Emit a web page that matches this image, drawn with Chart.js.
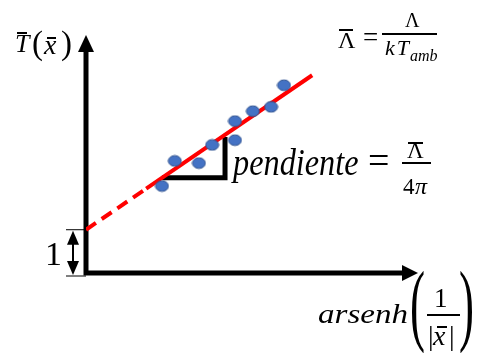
<!DOCTYPE html>
<html>
<head>
<meta charset="utf-8">
<script src="https://cdn.jsdelivr.net/npm/chart.js@4.4.1/dist/chart.umd.min.js"></script>
<style>
    html, body { margin: 0; padding: 0; background: #fff; }
    #wrap { position: relative; width: 477px; height: 353px; overflow: hidden; }
    #chart { position: absolute; left: 0; top: 0; }
    .lbl { position: absolute; font-family: 'Liberation Serif', 'Times New Roman', serif; color: #000; line-height: 1; white-space: nowrap; }
    .rule { position: absolute; background: #000; }
</style>
</head>
<body>
<div id="wrap">
    <canvas id="chart" width="477" height="353"></canvas>
</div>
<script>
// measured points (x = arsenh(1/|x|), y = T(x))
const pointsX = [1.83, 2.14, 2.72, 3.04, 3.59, 3.59, 4.02, 4.46, 4.77];
const pointsY = [2.01, 2.59, 2.54, 2.96, 3.07, 3.51, 3.74, 3.84, 4.34];

// fitted line: dashed extrapolation down to the axis, then solid
const dashX = [0, 1.45];
const dashY = [1.0, 1.95];
const solidX = [1.45, 5.45];
const solidY = [1.95, 4.57];

// slope triangle
const triX = [1.83, 3.35, 3.35];
const triY = [2.20, 2.20, 3.14];

const xRange = [0, 8];
const yRange = [0, 5.5];
const intercept = 1;

const toXY = (xs, ys) => xs.map((x, i) => ({ x: x, y: ys[i] }));

// blue ellipse marker
const dot = document.createElement('canvas');
dot.width = 15; dot.height = 13;
const dctx = dot.getContext('2d');
dctx.beginPath();
dctx.ellipse(7.5, 6.5, 6.5, 5.3, 0, 0, Math.PI * 2);
dctx.fillStyle = '#4472C4';
dctx.fill();
dctx.strokeStyle = '#2F528F';
dctx.lineWidth = 1;
dctx.stroke();

// axes with arrow heads + the "1" double arrow
const axesArrows = {
    id: 'axesArrows',
    beforeDatasetsDraw(chart) {
        const { ctx, scales: { x, y } } = chart;
        const x0 = x.getPixelForValue(0), y0 = y.getPixelForValue(0);
        const xEnd = x.getPixelForValue(xRange[1]), yEnd = y.getPixelForValue(yRange[1]);
        ctx.save();
        ctx.strokeStyle = '#000';
        ctx.fillStyle = '#000';
        ctx.lineWidth = 5;
        ctx.beginPath();
        ctx.moveTo(x0, yEnd + 14);
        ctx.lineTo(x0, y0);
        ctx.lineTo(xEnd - 14, y0);
        ctx.stroke();
        // arrow heads
        ctx.beginPath();
        ctx.moveTo(x0, yEnd);
        ctx.lineTo(x0 - 8, yEnd + 17);
        ctx.lineTo(x0 + 8, yEnd + 17);
        ctx.closePath();
        ctx.fill();
        ctx.beginPath();
        ctx.moveTo(xEnd, y0);
        ctx.lineTo(xEnd - 16, y0 - 8);
        ctx.lineTo(xEnd - 16, y0 + 8);
        ctx.closePath();
        ctx.fill();

        // "1" marker
        const yi = y.getPixelForValue(intercept);
        const yb = y0 + 3;
        const ax = x0 - 13;
        ctx.lineWidth = 1;
        ctx.beginPath();
        ctx.moveTo(ax - 7, yi); ctx.lineTo(x0, yi);
        ctx.moveTo(ax - 7, yb); ctx.lineTo(x0, yb);
        ctx.stroke();
        ctx.lineWidth = 2;
        ctx.beginPath();
        ctx.moveTo(ax, yi + 10); ctx.lineTo(ax, yb - 10);
        ctx.stroke();
        ctx.beginPath();
        ctx.moveTo(ax, yi + 1); ctx.lineTo(ax - 6, yi + 15); ctx.lineTo(ax + 6, yi + 15);
        ctx.closePath(); ctx.fill();
        ctx.beginPath();
        ctx.moveTo(ax, yb - 1); ctx.lineTo(ax - 6, yb - 15); ctx.lineTo(ax + 6, yb - 15);
        ctx.closePath(); ctx.fill();
        ctx.restore();
    }
};

new Chart(document.getElementById('chart').getContext('2d'), {
    type: 'scatter',
    data: {
        datasets: [
            { data: toXY(pointsX, pointsY), pointStyle: dot, pointRadius: 7, showLine: false },
            { data: toXY(solidX, solidY), showLine: true, borderColor: '#FF0000', borderWidth: 4, pointRadius: 0 },
            { data: toXY(dashX, dashY), showLine: true, borderColor: '#FF0000', borderWidth: 4, borderDash: [12, 7], pointRadius: 0 },
            { data: toXY(triX, triY), showLine: true, borderColor: '#000', borderWidth: 5, pointRadius: 0, borderJoinStyle: 'miter' }
        ]
    },
    options: {
        responsive: false,
        animation: false,
        layout: { padding: { left: 86, right: 59, top: 35, bottom: 80 } },
        scales: {
            x: { display: false, min: xRange[0], max: xRange[1] },
            y: { display: false, min: yRange[0], max: yRange[1] }
        },
        plugins: { legend: { display: false }, tooltip: { enabled: false } },
        elements: { point: { hoverRadius: 0 } }
    },
    plugins: [axesArrows]
});

// text labels
const wrap = document.getElementById('wrap');
const put = (txt, x, base, size, italic, extra) => {
    const el = document.createElement('div');
    el.className = 'lbl';
    el.textContent = txt;
    el.style.left = x + 'px';
    el.style.top = (base - 0.8375 * size) + 'px';
    el.style.fontSize = size + 'px';
    if (italic) el.style.fontStyle = 'italic';
    if (extra) Object.assign(el.style, extra);
    wrap.appendChild(el);
    return el;
};
const rule = (x1, x2, y, w) => {
    const el = document.createElement('div');
    el.className = 'rule';
    el.style.left = x1 + 'px';
    el.style.width = (x2 - x1) + 'px';
    el.style.top = (y - w / 2) + 'px';
    el.style.height = w + 'px';
    wrap.appendChild(el);
};
const paren = (ch, x, base, size, sx, sy) =>
    put(ch, x, base, size, false, {
        transform: `scale(${sx}, ${sy})`,
        transformOrigin: `0 ${(0.8375 - 0.25) * size}px`
    });

// T(x) axis label
put('T', 15, 53, 26, true);
rule(17, 27, 33, 1.5);
put('(', 32, 55, 33);
put('x', 44, 54, 28, true);
rule(47, 56, 38, 1.5);
put(')', 61, 55, 33);

// Lambda bar definition
put('Λ', 338, 48, 24);
rule(339, 353, 30, 1.5);
put('=', 363, 47, 27);
rule(382, 437, 34, 1.5);
put('Λ', 405, 27, 20);
put('kT', 385, 55, 22, true, { letterSpacing: '2px' });
put('amb', 410, 61, 16, true);

// slope
put('pendiente', 233, 175, 38, true, { transform: 'scaleX(0.85)', transformOrigin: '0 0' });
put('=', 368, 173, 38);
rule(402, 431, 163, 2);
put('Λ', 407, 158, 23);
rule(408, 423, 143, 1.5);
put('4', 403, 194, 23);
put('π', 415, 194, 24, true);

// intercept
put('1', 45, 265, 34);

// x axis label
put('arsenh', 318, 323, 28, true, { transform: 'scaleX(1.18)', transformOrigin: '0 0' });
paren('(', 410, 327, 60, 0.75, 1.5);
paren(')', 459, 327, 60, 0.75, 1.5);
put('1', 434, 308, 27);
rule(427, 460, 315, 2);
put('|', 428, 345, 28);
put('x', 433, 345, 28, true);
rule(437, 447, 327, 1.5);
put('|', 449, 345, 28);
</script>
</body>
</html>
